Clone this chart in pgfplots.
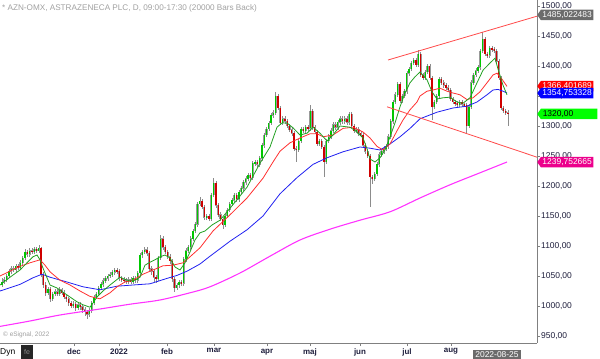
\documentclass[border=0pt]{standalone}
\usepackage{fontspec}
\setmainfont{Liberation Sans}
\usepackage{pgfplots}
\pgfplotsset{compat=1.18}
\usepackage{pgfplotstable}
\usetikzlibrary{shapes.symbols}
\definecolor{cgreen}{HTML}{00C800}
\definecolor{cred}{HTML}{D00000}
\definecolor{wick}{HTML}{8C8C8C}
\definecolor{bodyedge}{HTML}{9A9A9A}
\definecolor{maG}{HTML}{22A022}
\definecolor{maR}{HTML}{FF3030}
\definecolor{maB}{HTML}{2020F0}
\definecolor{maM}{HTML}{FF33FF}
\definecolor{trend}{HTML}{FF4A4A}
\definecolor{axgray}{HTML}{808080}
\definecolor{ticktext}{HTML}{1E1E3C}
\definecolor{boxgray}{HTML}{6B6B6B}
\definecolor{titlegray}{HTML}{A0A0A0}

\pgfplotstableread{
x o h l c
2.0 1035 1046 1031 1040
4.3 1040 1048 1036 1044
6.6 1044 1054 1040 1050
8.9 1050 1062 1046 1058
11.2 1058 1066 1054 1062
13.5 1062 1066 1056 1060
15.8 1060 1070 1056 1066
18.1 1066 1070 1060 1064
20.4 1064 1076 1060 1072
22.7 1072 1084 1068 1080
25.0 1080 1095 1076 1090
27.3 1090 1094 1082 1086
29.6 1086 1097 1082 1092
31.9 1092 1096 1086 1090
34.2 1090 1099 1086 1095
36.5 1095 1099 1088 1092
38.8 1092 1101 1088 1096
41.1 1096 1098 1048 1052
43.4 1052 1056 1030 1035
45.7 1035 1040 1016 1022
48.0 1022 1032 1018 1028
50.3 1028 1031 1006 1012
52.6 1012 1024 1008 1020
54.9 1020 1028 1016 1024
57.2 1024 1028 1016 1020
59.5 1020 1031 1016 1027
61.8 1027 1030 1018 1022
64.1 1022 1026 1011 1015
66.4 1015 1018 1006 1012
68.7 1012 1015 1000 1005
71.0 1005 1008 996 1000
73.3 1000 1008 996 1003
75.6 1003 1006 992 997
77.9 997 1006 993 1002
80.2 1002 1006 994 999
82.5 999 1003 989 994
84.8 994 998 984 990
87.1 990 994 979 986
89.4 986 996 982 992
91.7 992 1009 988 1005
94.0 1005 1019 1001 1015
96.3 1015 1024 1011 1020
98.6 1020 1034 1016 1030
100.9 1030 1040 1026 1036
103.2 1036 1046 1032 1042
105.5 1042 1050 1038 1046
107.8 1046 1054 1042 1050
110.1 1050 1056 1046 1052
112.4 1052 1060 1048 1056
114.7 1056 1064 1052 1060
117.0 1060 1064 1054 1058
119.3 1058 1062 1042 1046
121.6 1046 1050 1040 1044
123.9 1044 1048 1038 1042
126.2 1042 1046 1036 1040
128.5 1040 1048 1036 1044
130.8 1044 1048 1036 1040
133.1 1040 1050 1036 1046
135.4 1046 1050 1039 1043
137.7 1043 1059 1039 1055
140.0 1055 1089 1051 1085
142.3 1085 1094 1080 1090
144.6 1090 1098 1086 1094
146.9 1094 1098 1084 1088
149.2 1088 1092 1058 1062
151.5 1062 1066 1052 1058
153.8 1058 1062 1040 1048
156.1 1048 1052 1038 1045
158.4 1045 1084 1041 1080
160.7 1080 1118 1076 1112
163.0 1112 1116 1094 1098
165.3 1098 1102 1086 1090
167.6 1090 1094 1078 1082
169.9 1082 1086 1070 1075
172.2 1075 1079 1040 1045
174.5 1045 1049 1024 1030
176.8 1030 1039 1026 1035
179.1 1035 1044 1030 1040
181.4 1040 1044 1033 1038
183.7 1038 1082 1034 1078
186.0 1078 1096 1074 1092
188.3 1092 1102 1088 1098
190.6 1098 1116 1094 1112
192.9 1112 1129 1108 1125
195.2 1125 1140 1121 1136
197.5 1136 1174 1132 1170
199.8 1170 1182 1166 1175
202.1 1175 1179 1161 1165
204.4 1165 1169 1144 1148
206.7 1148 1154 1144 1150
209.0 1150 1154 1141 1145
211.3 1145 1189 1141 1185
213.6 1185 1213 1181 1205
215.9 1205 1209 1164 1168
218.2 1168 1172 1148 1152
220.5 1152 1156 1141 1145
222.8 1145 1149 1128 1135
225.1 1135 1154 1131 1150
227.4 1150 1164 1146 1160
229.7 1160 1174 1156 1170
232.0 1170 1180 1166 1176
234.3 1176 1189 1172 1185
236.6 1185 1189 1174 1178
238.9 1178 1194 1174 1190
241.2 1190 1200 1186 1196
243.5 1196 1210 1192 1206
245.8 1206 1216 1202 1212
248.1 1212 1222 1208 1218
250.4 1218 1222 1210 1214
252.7 1214 1242 1210 1238
255.0 1238 1244 1234 1240
257.3 1240 1244 1232 1236
259.6 1236 1250 1232 1246
261.9 1246 1272 1242 1268
264.2 1268 1289 1264 1285
266.5 1285 1299 1281 1295
268.8 1295 1309 1291 1305
271.1 1305 1322 1301 1318
273.4 1318 1326 1314 1322
275.7 1322 1357 1318 1350
278.0 1350 1354 1326 1330
280.3 1330 1334 1301 1305
282.6 1305 1316 1301 1312
284.9 1312 1316 1304 1308
287.2 1308 1312 1296 1300
289.5 1300 1304 1290 1294
291.8 1294 1298 1284 1288
294.1 1288 1292 1258 1262
296.4 1262 1266 1240 1260
298.7 1260 1279 1256 1275
301.0 1275 1299 1271 1295
303.3 1295 1299 1288 1292
305.6 1292 1302 1288 1298
307.9 1298 1302 1292 1296
310.2 1296 1335 1292 1325
312.5 1325 1329 1294 1298
314.8 1298 1302 1286 1290
317.1 1290 1294 1266 1270
319.4 1270 1279 1266 1275
321.7 1275 1279 1261 1265
324.0 1265 1269 1215 1240
326.3 1240 1279 1236 1275
328.6 1275 1286 1271 1282
330.9 1282 1296 1278 1292
333.2 1292 1306 1288 1302
335.5 1302 1306 1294 1298
337.8 1298 1310 1294 1306
340.1 1306 1316 1302 1312
342.4 1312 1316 1304 1308
344.7 1308 1316 1304 1312
347.0 1312 1316 1302 1306
349.3 1306 1324 1302 1320
351.6 1320 1324 1296 1300
353.9 1300 1304 1288 1292
356.2 1292 1298 1288 1294
358.5 1294 1298 1284 1288
360.8 1288 1292 1281 1285
363.1 1285 1289 1264 1268
365.4 1268 1272 1254 1258
367.7 1258 1262 1246 1250
370.0 1250 1254 1165 1215
372.3 1215 1219 1204 1212
374.6 1212 1224 1208 1220
376.9 1220 1240 1216 1236
379.2 1236 1256 1232 1252
381.5 1252 1262 1248 1258
383.8 1258 1266 1254 1262
386.1 1262 1270 1258 1266
388.4 1266 1286 1262 1282
390.7 1282 1312 1278 1308
393.0 1308 1344 1304 1340
395.3 1340 1356 1336 1352
397.6 1352 1374 1348 1370
399.9 1370 1374 1338 1342
402.2 1342 1354 1338 1350
404.5 1350 1362 1346 1358
406.8 1358 1392 1354 1388
409.1 1388 1399 1384 1395
411.4 1395 1409 1391 1405
413.7 1405 1414 1401 1410
416.0 1410 1414 1398 1402
418.3 1402 1427 1398 1420
420.6 1420 1424 1381 1385
422.9 1385 1389 1376 1380
425.2 1380 1394 1376 1390
427.5 1390 1404 1386 1400
429.8 1400 1404 1376 1380
432.1 1380 1384 1310 1332
434.4 1332 1344 1328 1340
436.7 1340 1354 1336 1350
439.0 1350 1382 1346 1378
441.3 1378 1382 1368 1372
443.6 1372 1376 1364 1368
445.9 1368 1372 1360 1364
448.2 1364 1368 1356 1360
450.5 1360 1364 1341 1345
452.8 1345 1349 1336 1340
455.1 1340 1344 1334 1338
457.4 1338 1342 1331 1335
459.7 1335 1344 1331 1340
462.0 1340 1344 1332 1336
464.3 1336 1339 1331 1335
466.6 1335 1339 1288 1300
468.9 1300 1336 1296 1332
471.2 1332 1376 1328 1372
473.5 1372 1389 1368 1385
475.8 1385 1396 1381 1392
478.1 1392 1402 1388 1398
480.4 1398 1429 1394 1425
482.7 1425 1457 1421 1445
485.0 1445 1449 1416 1420
487.3 1420 1424 1414 1418
489.6 1418 1434 1414 1430
491.9 1430 1434 1424 1428
494.2 1428 1432 1421 1425
496.5 1425 1429 1404 1408
498.8 1408 1412 1376 1380
501.1 1380 1384 1326 1330
503.4 1330 1334 1321 1325
505.7 1325 1329 1318 1322
508.0 1322 1326 1300 1320
}\candles

\begin{document}
\begin{tikzpicture}
\useasboundingbox (0,0) rectangle (600bp,359bp);
\begin{axis}[
  at={(0,16bp)}, anchor=south west,
  scale only axis, width=537bp, height=343bp,
  xmin=0, xmax=537, ymin=938.33, ymax=1510,
  axis x line*=bottom, axis y line*=right,
  axis line style={-, draw=axgray, line width=0.6bp},
  xtick={74,119,167,214,267,310,360,407,451},
  xticklabels={dec,2022,feb,mar,apr,maj,jun,jul,aug},
  ytick={950,1000,...,1500},
  tick align=outside, major tick length=3bp,
  tick style={axgray, line width=0.6bp},
  /pgf/number format/assume math mode=true,
  /pgf/number format/fixed, /pgf/number format/fixed zerofill,
  /pgf/number format/precision=2, /pgf/number format/use comma,
  /pgf/number format/1000 sep={},
  yticklabel style={font=\fontsize{8.5}{9}\selectfont, text=ticktext, inner sep=1bp},
  xticklabel style={font=\bfseries\fontsize{8}{9}\selectfont, text=ticktext, inner sep=1bp, yshift=-1.5bp},
  clip=true,
  candle/.style={only marks, mark=*, mark size=0pt, mark options={draw=none, fill=none}, forget plot},
]
% wicks
\addplot[candle,
  error bars/.cd, y dir=both, y explicit, error mark=none,
  error bar style={line width=0.5bp, wick}]
  table[x=x, y expr={(\thisrow{h}+\thisrow{l})/2}, y error expr={(\thisrow{h}-\thisrow{l})/2}] {\candles};
% body outlines (gray)
\addplot[candle,
  error bars/.cd, y dir=both, y explicit, error mark=none,
  error bar style={line width=2.1bp, bodyedge}]
  table[x=x, y expr={(\thisrow{o}+\thisrow{c})/2}, y error expr={abs(\thisrow{c}-\thisrow{o})/2+0.8}] {\candles};
% up bodies
\addplot[candle,
  restrict expr to domain={\thisrow{c}-\thisrow{o}}{0:1000},
  error bars/.cd, y dir=both, y explicit, error mark=none,
  error bar style={line width=1.3bp, cgreen}]
  table[x=x, y expr={(\thisrow{o}+\thisrow{c})/2}, y error expr={(\thisrow{c}-\thisrow{o})/2}] {\candles};
% down bodies
\addplot[candle,
  restrict expr to domain={\thisrow{o}-\thisrow{c}}{0.5:1000},
  error bars/.cd, y dir=both, y explicit, error mark=none,
  error bar style={line width=1.3bp, cred}]
  table[x=x, y expr={(\thisrow{o}+\thisrow{c})/2}, y error expr={(\thisrow{o}-\thisrow{c})/2}] {\candles};

% 200-day (magenta)
\addplot[maM, line width=1.1bp, smooth] coordinates {
(0,966) (30,975) (60,985) (100,995) (130,1003) (160,1010) (190,1022) (210,1032)
(240,1055) (270,1083) (300,1110) (330,1128) (360,1143) (390,1157) (420,1180)
(450,1202) (480,1222) (507,1240)};
% blue
\addplot[maB, line width=0.8bp] coordinates {
(0,1025) (20,1036) (33,1047) (42,1053) (50,1048) (67,1040) (83,1032) (100,1027)
(117,1033) (133,1035) (150,1037) (167,1046) (177,1051) (187,1058) (200,1070)
(210,1083) (230,1108) (247,1127) (263,1150) (280,1187) (297,1214) (313,1236)
(327,1247) (343,1257) (360,1265) (370,1263) (380,1260) (390,1270) (400,1282)
(410,1296) (420,1312) (437,1323) (453,1330) (467,1333) (477,1340) (487,1352)
(493,1360) (498,1361) (503,1358) (507,1355)};
% red
\addplot[maR, line width=0.8bp] coordinates {
(0,1050) (10,1058) (20,1066) (30,1072) (40,1077) (45,1068) (50,1057) (60,1043)
(70,1035) (80,1025) (90,1016) (100,1012) (110,1022) (117,1032) (125,1040)
(133,1043) (143,1053) (153,1060) (163,1067) (173,1068) (183,1072) (190,1082)
(200,1097) (213,1125) (230,1152) (247,1180) (263,1213) (273,1240) (280,1258)
(290,1272) (300,1280) (310,1287) (317,1287) (323,1282) (333,1285) (343,1296)
(353,1298) (363,1290) (370,1280) (377,1266) (383,1260) (390,1270) (397,1292)
(403,1310) (410,1327) (417,1340) (420,1350) (427,1358) (433,1360) (440,1363)
(447,1358) (453,1355) (460,1352) (467,1344) (473,1347) (480,1357) (487,1372)
(493,1385) (497,1388) (502,1378) (507,1366)};
% green
\addplot[maG, line width=0.8bp] coordinates {
(0,1035) (10,1048) (20,1060) (27,1072) (33,1082) (37,1085) (40,1077) (43,1063)
(47,1047) (50,1035) (57,1030) (63,1023) (70,1015) (77,1007) (83,1002) (90,998)
(93,1005) (97,1015) (103,1025) (110,1035) (120,1048) (127,1043) (135,1043)
(140,1048) (145,1068) (150,1073) (155,1077) (160,1082) (165,1085) (170,1080)
(175,1065) (180,1060) (185,1072) (190,1090) (195,1110) (200,1122) (205,1125)
(212,1135) (220,1143) (237,1177) (247,1198) (260,1238) (270,1265) (277,1298)
(282,1305) (287,1305) (293,1297) (300,1285) (307,1288) (313,1298) (320,1288)
(327,1275) (333,1285) (340,1300) (350,1298) (357,1290) (363,1280) (367,1262)
(370,1245) (375,1240) (380,1247) (385,1260) (390,1282) (395,1305) (400,1332)
(405,1355) (410,1372) (415,1382) (420,1390) (427,1377) (432,1357) (437,1345)
(443,1347) (450,1348) (457,1340) (463,1338) (470,1347) (477,1372) (483,1393)
(490,1405) (495,1413) (498,1395) (503,1368) (507,1352)};
% trend channel
\addplot[trend, line width=0.8bp] coordinates {(388,1410) (537,1483)};
\addplot[trend, line width=0.8bp] coordinates {(387,1332) (537,1248)};

\coordinate (Lgray) at (axis cs:537,1485.02);
\coordinate (Lred) at (axis cs:537,1366.40);
\coordinate (Lblue) at (axis cs:537,1354.75);
\coordinate (Lgreen) at (axis cs:537,1320);
\coordinate (Lmag) at (axis cs:537,1239.75);
\end{axis}

\tikzset{lab/.style={signal, signal to=west, signal pointer angle=110,
  inner xsep=1.5bp, inner ysep=0.6bp, minimum height=10.5bp,
  font=\fontsize{8.5}{9}\selectfont, anchor=west}}
\node[lab, fill=boxgray, text=white] at (Lgray) {1485,022483};
\node[lab, fill=red, text=white] at (Lred) {1366,401689};
\node[lab, fill=blue, text=white] at (Lblue) {1354,753328};
\node[lab, fill=green, text=black, minimum width=60bp, align=left] at (Lgreen) {1320,00\hspace{22bp}};
\node[lab, fill=magenta, text=white] at (Lmag) {1239,752665};

% title and footers
\node[anchor=west, text=titlegray, font=\fontsize{8.2}{9}\selectfont, inner sep=0pt] at (2bp,351bp)
  {* AZN-OMX, ASTRAZENECA PLC, D, 09:00-17:30 (20000 Bars Back)};
\node[anchor=west, text=titlegray, font=\fontsize{6.5}{7}\selectfont, inner sep=0pt] at (3bp,24bp)
  {© eSignal, 2022};
\node[anchor=west, text=black, font=\fontsize{8.5}{9}\selectfont, inner sep=0pt] at (0bp,7bp) {Dyn};
\fill[black!85] (21bp,0bp) rectangle (33bp,14bp);
\node[text=black!45, font=\fontsize{7}{8}\selectfont, inner sep=0pt] at (27bp,6.5bp) {fe};
\node[fill=boxgray, text=white, font=\fontsize{8.5}{9}\selectfont, inner xsep=2bp, inner ysep=1.5bp, anchor=south] at (497bp,0bp) {2022-08-25};
\end{tikzpicture}
\end{document}
